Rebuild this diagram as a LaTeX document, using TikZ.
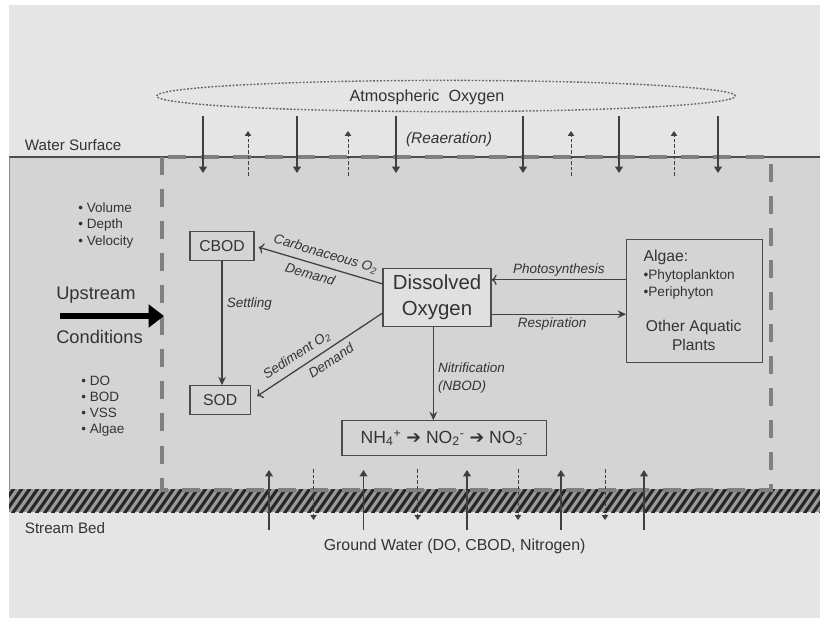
\documentclass[tikz,border=0pt]{standalone}
\usepackage{fontspec}
\setmainfont{Liberation Sans}
\newfontfamily\dejavu{DejaVu Sans}
\usetikzlibrary{arrows.meta,shapes.geometric}

\begin{document}
\begin{tikzpicture}[x=0.025cm,y=-0.025cm,
  every node/.style={text=black!80,inner sep=2pt},
  box/.style={draw=black!70,line width=0.9pt,font=\fontsize{11.2}{13.5}\selectfont},
  lbl/.style={font=\fontsize{9.6}{12.8}\selectfont\itshape},
  lst/.style={font=\fontsize{9.6}{11.6}\selectfont,align=left,anchor=west},
  flow/.style={draw=black!75,line width=0.9pt,-{Stealth[length=6pt,width=5.5pt]}},
  gain/.style={draw=black!75,line width=0.9pt,-{Triangle[length=4.5pt,width=5.5pt]}},
  loss/.style={draw=black!75,line width=0.7pt,dash pattern=on 2.5pt off 1.5pt,-{Triangle[length=3.4pt,width=4.4pt]}},
  border/.style={draw=black!50,line width=2.8pt,dash pattern=on 12.8pt off 10pt}]

% background and water column
\useasboundingbox (0,0) rectangle (820,618);
\fill[white] (0,0) rectangle (820,618);
\fill[black!10] (9,5) rectangle (820,618);
\fill[black!17] (9,157) rectangle (820,490);
\draw[black!70,line width=0.8pt] (9,157) -- (820,157);
\draw[black!45,line width=0.6pt] (9,157) -- (9,490);

% stream bed hatching
\begin{scope}
\clip (9,489) rectangle (820,512);
\fill[black!40] (9,489) rectangle (820,512);
\foreach \x in {-20,-12,...,830}
  \draw[black!85,line width=2.2pt] (\x,514) -- ++(19,-27);
\end{scope}

% control volume
\draw[border] (162,157) rectangle (771,490);

% atmosphere
\node[ellipse,draw=black!60,line width=1pt,dash pattern=on 1.3pt off 1.2pt,
  minimum width=14.47cm,minimum height=0.78cm] (atmo) at (446,96) {};
\node[font=\fontsize{11.5}{14}\selectfont] (atmotxt) at (427,97) {Atmospheric\ \ Oxygen};
\node[font=\fontsize{11}{13}\selectfont\itshape] (reaer) at (449,139) {(Reaeration)};
\node[font=\fontsize{10.8}{13}\selectfont,anchor=west] (surf) at (21.8,145) {Water Surface};

\foreach \x [count=\i] in {203,297,396,523,619,718} {
  \coordinate (ain\i) at (\x,116);
  \coordinate (aout\i) at (\x,173);
  \draw[gain] (ain\i) -- (aout\i);
}
\foreach \x [count=\i] in {248,348,571,674} {
  \coordinate (eout\i) at (\x,176);
  \coordinate (eup\i) at (\x,131);
  \draw[loss] (eout\i) -- (eup\i);
}

% upstream conditions
\node[lst] (hydro) at (75.2,225.3) {• Volume\\• Depth\\• Velocity};
\node[font=\fontsize{13}{15}\selectfont,anchor=west] (upstr) at (53.2,295) {Upstream};
\node[font=\fontsize{13}{15}\selectfont,anchor=west] (cond) at (53.2,336.7) {Conditions};
\node[lst] (quality) at (78.2,406.2) {• DO\\• BOD\\• VSS\\• Algae};
\coordinate (upin) at (60,316);
\coordinate (upout) at (164,316);
\draw[black,line width=4.2pt,-{Triangle[length=11pt,width=16pt]}] (upin) -- (upout);

% boxes
\node[box,minimum width=1.6cm,minimum height=0.71cm] (CBOD) at (222,246) {CBOD};
\node[box,minimum width=1.52cm,minimum height=0.71cm] (SOD) at (220.3,400) {SOD};
\node[box,fill=black!12,minimum width=2.7cm,minimum height=1.46cm,align=center,
  font=\fontsize{14.5}{18.3}\selectfont] (DO) at (437,297.5) {Dissolved\\Oxygen};
\node[box,minimum width=5.12cm,minimum height=0.86cm,font=\fontsize{12.5}{15}\selectfont] (NH4) at (444.3,438)
  {NH\textsubscript{4}\textsuperscript{+} {\dejavu ➔} NO\textsubscript{2}\textsuperscript{-} {\dejavu ➔} NO\textsubscript{3}\textsuperscript{-}};
\node[box,minimum width=3.4cm,minimum height=3.085cm] (algae) at (694.7,301) {};
\node[font=\fontsize{11.2}{13}\selectfont,anchor=west] (algaehd) at (640.5,257.3) {Algae:};
\node[lst,font=\fontsize{9.7}{12.1}\selectfont] (algaelst) at (640.5,284.2) {•Phytoplankton\\•Periphyton};
\node[font=\fontsize{11.1}{13.5}\selectfont,align=center] (plants) at (693.7,335.5) {Other Aquatic\\Plants};

% oxygen fluxes
\draw[flow] (CBOD.south) -- node[lbl,pos=.35,right=1pt]{Settling} (CBOD.south |- SOD.north);
\draw[flow,<-,shorten <=3pt] (CBOD.east) -- node[lbl,sloped,above=2pt,pos=.53]{Carbonaceous O\textsubscript{2}}
  node[lbl,sloped,below=2pt,pos=.46]{Demand} (DO.166);
\draw[flow,<-,shorten <=5pt] (SOD.east) -- node[lbl,sloped,above=2pt,pos=.4]{Sediment O\textsubscript{2}}
  node[lbl,sloped,below=2pt,pos=.56]{Demand} (DO.196);
\draw[flow,<-] (DO.18) -- node[lbl,above]{Photosynthesis} (DO.18 -| algae.west);
\draw[flow] (DO.-17) -- node[lbl,below,pos=.45]{Respiration} (DO.-17 -| algae.west);
\draw[flow] (DO.263) -- node[lbl,pos=.55,right=1pt,align=left]{Nitrification\\(NBOD)} (DO.263 |- NH4.north);

% ground water
\node[font=\fontsize{10.8}{13}\selectfont,anchor=west] (bed) at (21.8,528) {Stream Bed};
\node[font=\fontsize{11.3}{13}\selectfont] (gw) at (454.6,546.7) {Ground Water (DO, CBOD, Nitrogen)};
\foreach \x [count=\i] in {269,363.5,467,561,644} {
  \coordinate (gwin\i) at (\x,530);
  \coordinate (gwout\i) at (\x,470);
  \draw[gain] (gwin\i) -- (gwout\i);
}
\foreach \x [count=\i] in {313.5,417.7,518,605} {
  \coordinate (gwtop\i) at (\x,469);
  \coordinate (gwbot\i) at (\x,520);
  \draw[loss] (gwtop\i) -- (gwbot\i);
}
\end{tikzpicture}
\end{document}
